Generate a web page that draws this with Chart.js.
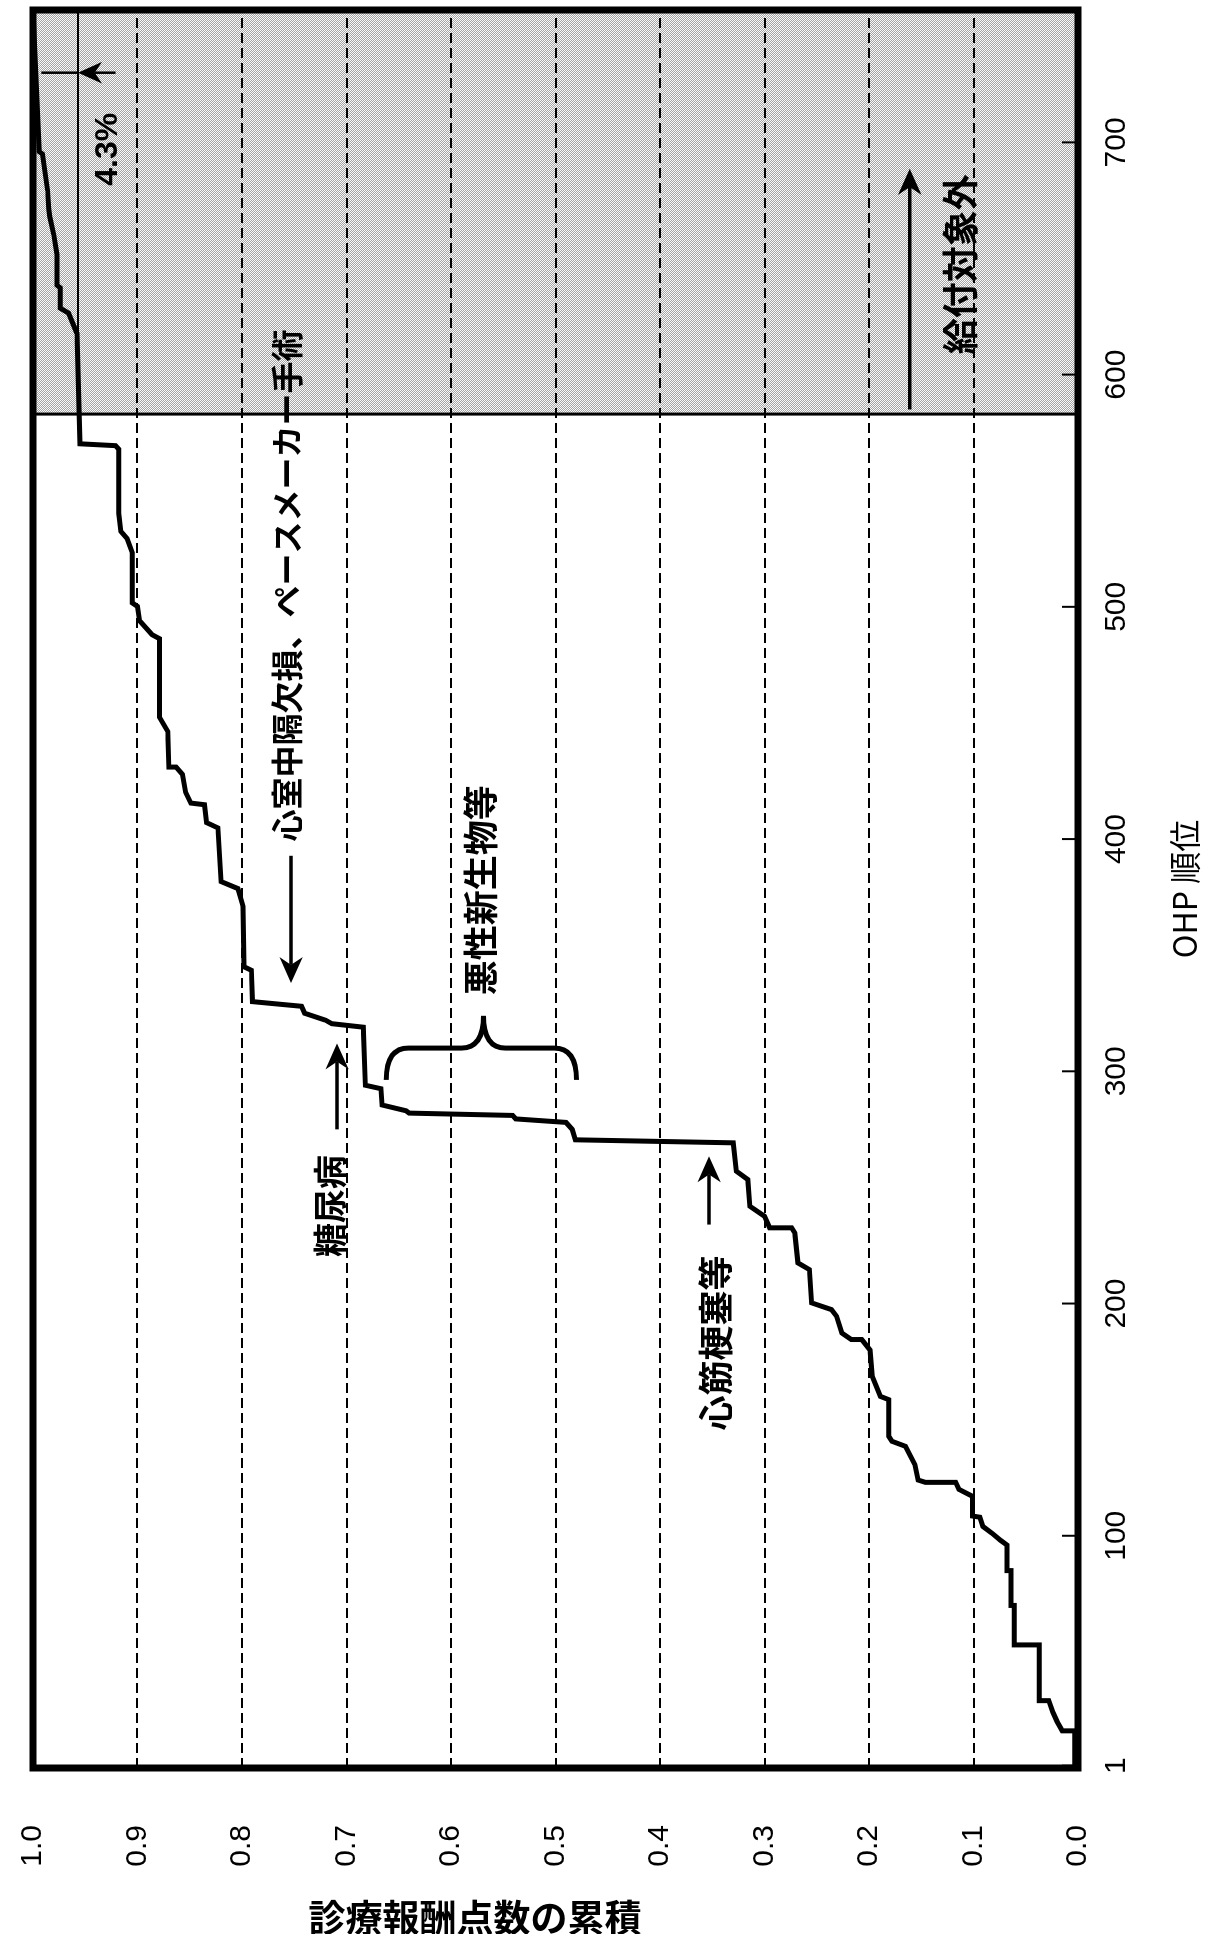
<!DOCTYPE html>
<html>
<head>
<meta charset="utf-8">
<script src="https://cdn.jsdelivr.net/npm/chart.js@4.4.1/dist/chart.umd.min.js"></script>
<style>
  html, body { margin: 0; padding: 0; background: #fff; }
  body { width: 1207px; height: 1934px; overflow: hidden; position: relative; }
  /* chart is drawn upright, then turned a quarter left like the scanned page */
  #wrap {
    position: absolute; left: 0; top: 1934px;
    width: 1934px; height: 1207px;
    transform-origin: 0 0; transform: rotate(-90deg);
  }
</style>
</head>
<body>
<div id="wrap"><canvas id="chart" width="1934" height="1207"></canvas></div>
<script>
// ----------------------------
// Data (OHP rank vs cumulative share of points)
// ----------------------------
const ranks = [
  1, 16, 16, 20, 24, 29, 29, 53, 53, 70, 70, 85, 85, 96, 98, 101, 104, 108, 108.5, 117,
  120, 123, 123, 124, 130.6, 138.5, 140.7, 142.8, 158.6, 160, 168.7, 180, 184.5, 184.5, 187.3, 194.5,
  197.4, 200.3, 214.6, 217.5, 230.4, 232.6, 232.6, 237.6, 241.9, 253.4, 257, 269.2, 270.5, 275,
  278, 279.5, 281, 282, 283, 285.5, 292.5, 294, 319, 320.5, 322, 325, 328, 330, 343.5, 345,
  371, 378.7, 381.7, 404.8, 407.1, 414.8, 415.5, 420.2, 427.9, 431, 431, 446.3, 452.5, 486.3,
  488, 494, 500.2, 501.7, 523.3, 529.4, 532.5, 540.2, 567.9, 569.4, 570.2, 617.8, 626.5, 628.6,
  637.4, 638.5, 651.7, 660, 668, 671.4, 679.2, 695, 696, 757
];
const values = [
  0.003, 0.003, 0.015, 0.020, 0.024, 0.028, 0.037, 0.037, 0.061, 0.061, 0.064, 0.064, 0.068, 0.068, 0.074, 0.082, 0.091, 0.094, 0.101, 0.101,
  0.114, 0.117, 0.146, 0.153, 0.156, 0.165, 0.178, 0.181, 0.181, 0.189, 0.197, 0.199, 0.207, 0.217, 0.226, 0.231,
  0.236, 0.255, 0.257, 0.268, 0.271, 0.274, 0.295, 0.300, 0.314, 0.316, 0.327, 0.330, 0.481, 0.484,
  0.490, 0.538, 0.541, 0.640, 0.643, 0.666, 0.667, 0.682, 0.684, 0.714, 0.720, 0.740, 0.743, 0.790, 0.791, 0.798,
  0.799, 0.804, 0.820, 0.823, 0.834, 0.836, 0.849, 0.854, 0.857, 0.863, 0.870, 0.871, 0.879, 0.879,
  0.886, 0.898, 0.900, 0.905, 0.905, 0.910, 0.916, 0.918, 0.918, 0.921, 0.955, 0.958, 0.966, 0.974,
  0.974, 0.977, 0.977, 0.980, 0.984, 0.985, 0.986, 0.991, 0.994, 1.0
];
const rankTicks = [1, 100, 200, 300, 400, 500, 600, 700];
const valueTicks = [0, 0.1, 0.2, 0.3, 0.4, 0.5, 0.6, 0.7, 0.8, 0.9, 1.0];
const rankMax = 757;
const excludedFrom = 583;     // 給付対象外 starts here
const coveredShare = 0.957;   // 1 - 4.3%

const jp = '"Noto Sans CJK JP", "Noto Sans", sans-serif';
const latin = '"Liberation Sans", Arial, sans-serif';

// ----------------------------
// Helpers
// ----------------------------
function drawArrow(ctx, x1, y1, x2, y2, head) {
    const a = Math.atan2(y2 - y1, x2 - x1);
    const c = Math.cos(a), s = Math.sin(a);
    ctx.beginPath();
    ctx.moveTo(x1, y1);
    ctx.lineTo(x2 - head * 0.7 * c, y2 - head * 0.7 * s);
    ctx.stroke();
    ctx.beginPath();
    ctx.moveTo(x2, y2);
    ctx.lineTo(x2 - head * c + head * 0.45 * s, y2 - head * s - head * 0.45 * c);
    ctx.lineTo(x2 - head * 0.7 * c, y2 - head * 0.7 * s);
    ctx.lineTo(x2 - head * c - head * 0.45 * s, y2 - head * s + head * 0.45 * c);
    ctx.closePath();
    ctx.fill();
}

function makeShade(ctx) {
    const tile = document.createElement('canvas');
    tile.width = 2; tile.height = 2;
    const t = tile.getContext('2d');
    t.fillStyle = '#fafafa'; t.fillRect(0, 0, 2, 2);
    t.fillStyle = '#a4a4a4'; t.fillRect(0, 0, 1, 1); t.fillRect(1, 1, 1, 1);
    return ctx.createPattern(tile, 'repeat');
}

// ----------------------------
// Plugin: shading, frame and notes
// ----------------------------
const notesPlugin = {
    id: 'notes',
    beforeDraw(chart) {
        const {ctx, chartArea: ca, scales: {x}} = chart;
        ctx.save();
        ctx.fillStyle = '#fff';
        ctx.fillRect(0, 0, chart.width, chart.height);
        ctx.fillStyle = makeShade(ctx);
        const x0 = x.getPixelForValue(excludedFrom);
        ctx.fillRect(x0, ca.top, ca.right - x0, ca.bottom - ca.top);
        ctx.restore();
    },
    afterDatasetsDraw(chart) {
        const {ctx, chartArea: ca, scales: {x, y}} = chart;
        ctx.save();
        ctx.strokeStyle = '#000';
        ctx.fillStyle = '#000';

        // boundary of excluded part
        const xb = x.getPixelForValue(excludedFrom);
        ctx.lineWidth = 3;
        ctx.beginPath();
        ctx.moveTo(xb, ca.top); ctx.lineTo(xb, ca.bottom);
        ctx.stroke();

        // 95.7% reference line in shaded part
        ctx.lineWidth = 2;
        ctx.beginPath();
        ctx.moveTo(xb, y.getPixelForValue(coveredShare));
        ctx.lineTo(ca.right, y.getPixelForValue(coveredShare));
        ctx.stroke();

        // frame
        ctx.lineWidth = 7;
        ctx.strokeRect(ca.left, ca.top, ca.right - ca.left, ca.bottom - ca.top);

        // inner tick marks on rank axis
        ctx.lineWidth = 2;
        rankTicks.forEach(r => {
            const px = x.getPixelForValue(r);
            ctx.beginPath();
            ctx.moveTo(px, ca.bottom); ctx.lineTo(px, ca.bottom - 16);
            ctx.stroke();
        });

        // arrows
        ctx.lineWidth = 3.5;
        drawArrow(ctx, x.getPixelForValue(392.8), y.getPixelForValue(0.753),
                       x.getPixelForValue(338), y.getPixelForValue(0.753), 26);
        drawArrow(ctx, x.getPixelForValue(275), y.getPixelForValue(0.709),
                       x.getPixelForValue(312), y.getPixelForValue(0.709), 26);
        drawArrow(ctx, x.getPixelForValue(234), y.getPixelForValue(0.353),
                       x.getPixelForValue(263.4), y.getPixelForValue(0.353), 26);
        drawArrow(ctx, x.getPixelForValue(585), y.getPixelForValue(0.161),
                       x.getPixelForValue(688.6), y.getPixelForValue(0.161), 26);
        // 4.3% marker
        ctx.lineWidth = 2.5;
        ctx.beginPath();
        ctx.moveTo(x.getPixelForValue(730), y.getPixelForValue(0.957));
        ctx.lineTo(x.getPixelForValue(730), y.getPixelForValue(0.992));
        ctx.stroke();
        drawArrow(ctx, x.getPixelForValue(730), y.getPixelForValue(0.921),
                       x.getPixelForValue(730), y.getPixelForValue(0.957), 24);

        // brace for 悪性新生物等
        const bt = x.getPixelForValue(296.3), bb = x.getPixelForValue(310), bn = x.getPixelForValue(323.9);
        const yT = y.getPixelForValue(0.662), yB = y.getPixelForValue(0.480), yM = y.getPixelForValue(0.569);
        ctx.lineWidth = 5;
        ctx.beginPath();
        ctx.moveTo(bt, yT);
        ctx.quadraticCurveTo(bb, yT, bb, yT + 22);
        ctx.lineTo(bb, yM - 22);
        ctx.quadraticCurveTo(bb, yM, bn, yM);
        ctx.quadraticCurveTo(bb, yM, bb, yM + 22);
        ctx.lineTo(bb, yB - 22);
        ctx.quadraticCurveTo(bb, yB, bt, yB);
        ctx.stroke();

        // labels
        ctx.textBaseline = 'middle';
        ctx.textAlign = 'left';
        ctx.font = 'bold 32px ' + jp;
        ctx.fillText('心室中隔欠損、ペースメーカー手術', x.getPixelForValue(399), y.getPixelForValue(0.757));
        ctx.textAlign = 'center';
        ctx.font = 'bold 35px ' + jp;
        ctx.fillText('悪性新生物等', x.getPixelForValue(378), y.getPixelForValue(0.572));
        ctx.font = 'bold 34px ' + jp;
        ctx.fillText('糖尿病', x.getPixelForValue(242), y.getPixelForValue(0.716));
        ctx.font = 'bold 35px ' + jp;
        ctx.fillText('心筋梗塞等', x.getPixelForValue(183), y.getPixelForValue(0.347));
        ctx.font = 'bold 36px ' + jp;
        ctx.fillText('給付対象外', x.getPixelForValue(647.5), y.getPixelForValue(0.113));
        ctx.font = 'bold 32px ' + latin;
        ctx.fillText('4.3%', x.getPixelForValue(697), y.getPixelForValue(0.928));

        // rank axis title
        ctx.font = '32px ' + jp;
        ctx.fillText('OHP 順位', (ca.left + ca.right) / 2, 1185);

        // value axis title, written upright on the page
        ctx.save();
        ctx.translate(16, 475);
        ctx.rotate(Math.PI / 2);
        ctx.font = 'bold 37px ' + jp;
        ctx.fillText('診療報酬点数の累積', 0, 0);
        ctx.restore();

        ctx.restore();
    }
};

// ----------------------------
// Chart
// ----------------------------
const ctx = document.getElementById('chart').getContext('2d');
new Chart(ctx, {
    type: 'scatter',
    data: {
        datasets: [{
            data: ranks.map((r, i) => ({ x: r, y: values[i] })),
            showLine: true,
            borderColor: '#000',
            borderWidth: 5,
            pointRadius: 0,
            pointHoverRadius: 0,
            tension: 0,
            borderJoinStyle: 'miter'
        }]
    },
    options: {
        responsive: false,
        animation: false,
        devicePixelRatio: 1,
        layout: { autoPadding: false, padding: { left: 0, right: 10, top: 33, bottom: 0 } },
        plugins: { legend: { display: false }, tooltip: { enabled: false } },
        scales: {
            x: {
                type: 'linear',
                min: 0,
                max: rankMax,
                afterBuildTicks: s => { s.ticks = rankTicks.map(v => ({ value: v })); },
                afterFit: s => { s.height = 129; s.paddingLeft = 0; s.paddingRight = 0; },
                grid: { display: false, drawTicks: false },
                border: { display: false },
                ticks: {
                    color: '#000',
                    padding: 21,
                    maxRotation: 0,
                    autoSkip: false,
                    font: { family: latin, size: 30 },
                    callback: v => String(v)
                }
            },
            y: {
                min: 0,
                max: 1,
                afterBuildTicks: s => { s.ticks = valueTicks.map(v => ({ value: v })); },
                afterFit: s => { s.width = 166; s.paddingTop = 0; s.paddingBottom = 0; },
                grid: {
                    drawTicks: false,
                    lineWidth: 2,
                    color: c => (c.tick && (c.tick.value === 0 || c.tick.value === 1)) ? 'rgba(0,0,0,0)' : '#000'
                },
                border: { display: false, dash: [10, 5] },
                ticks: {
                    color: '#000',
                    padding: 57,
                    font: { family: latin, size: 30 },
                    callback: v => Number(v).toFixed(1)
                }
            }
        }
    },
    plugins: [notesPlugin]
});
</script>
</body>
</html>
